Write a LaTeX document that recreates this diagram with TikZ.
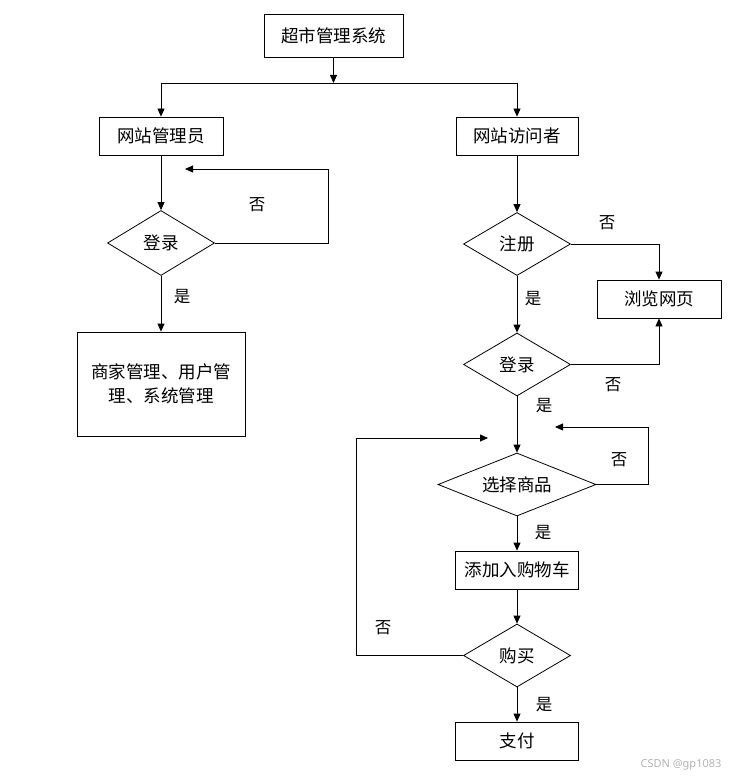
\documentclass[tikz,border=0pt]{standalone}
\usepackage{fontspec}
\newfontfamily\cjk{Noto Sans CJK SC}
\newfontfamily\wmfont{Noto Sans}
\usepackage{tikz}
\usetikzlibrary{shapes.geometric,arrows.meta,calc,positioning}

\begin{document}
\begin{tikzpicture}[
	%	style def
    x=1pt, y=-1pt,
    flow line/.style={line width=0.8pt, black},
    arr/.style={flow line, -{Triangle[length=8pt,width=7pt]}},
    procbox/.style={draw, line width=0.8pt, rectangle, inner sep=0pt, font=\cjk\fontsize{17.5}{24}\selectfont},
    decide/.style={draw, line width=0.8pt, diamond, shape aspect=2.5, inner sep=0pt, font=\cjk\fontsize{17.5}{20}\selectfont},
    ans/.style={font=\cjk\fontsize{16.5}{18}\selectfont},
    every node/.style={color=black}
    ]
	\useasboundingbox (0,0) rectangle (738,781);

	% top and the two roles
	\node[procbox, minimum width=139pt, minimum height=43pt] (sys) at (333.5,35.5) {超市管理系统};
	\node[procbox, minimum width=124pt, minimum height=38pt] (admin) at (161,136) {网站管理员};
	\node[procbox, minimum width=122pt, minimum height=38pt] (visitor) at (517,136) {网站访问者};
	\coordinate (split) at (333.5,83);

	% admin side
	\node[decide, minimum width=107pt, minimum height=65pt] (adlogin) at (161,243) {登录};
	\node[procbox, minimum width=168pt, minimum height=104pt, align=center] (admfunc) at (161,384) {商家管理、用户管\\理、系统管理};
	\coordinate (adback) at (185,169);

	% visitor side
	\node[decide, minimum width=107pt, minimum height=63pt] (reg) at (517,244) {注册};
	\node[procbox, minimum width=124pt, minimum height=38pt] (browse) at (659,299) {浏览网页};
	\node[decide, minimum width=107pt, minimum height=63pt] (vlogin) at (517,364.5) {登录};
	\node[decide, minimum width=158pt, minimum height=63pt] (choose) at (517,484.5) {选择商品};
	\node[procbox, minimum width=123pt, minimum height=38pt] (cart) at (517,570) {添加入购物车};
	\node[decide, minimum width=107pt, minimum height=63pt] (buy) at (517,655.5) {购买};
	\node[procbox, minimum width=123pt, minimum height=38pt] (pay) at (517,741) {支付};
	\coordinate (chback) at (555,427);
	\coordinate (buyback) at (488,438);

	% connections
	\draw[arr] (sys) -- (split);
	\draw[arr] (split) -| (admin);
	\draw[arr] (split) -| (visitor);
	\draw[arr] (admin) -- (adlogin);
	\draw[arr] (adlogin.east) -- ++(113,0) |- (adback);
	\draw[arr] (adlogin) -- (admfunc);
	\draw[arr] (visitor) -- (reg);
	\draw[arr] (reg.east) -| (browse);
	\draw[arr] (reg) -- (vlogin);
	\draw[arr] (vlogin.east) -| (browse);
	\draw[arr] (vlogin) -- (choose);
	\draw[arr] (choose.east) -- ++(52,0) |- (chback);
	\draw[arr] (choose) -- (cart);
	\draw[arr] (cart) -- (buy);
	\draw[arr] (buy.west) -- ++(-107,0) |- (buyback);
	\draw[arr] (buy) -- (pay);

	% yes / no labels
	\node[ans] (n1) at (257,205) {否};
	\node[ans] (y1) at (182,297) {是};
	\node[ans] (n2) at (607,223) {否};
	\node[ans] (y2) at (533,299) {是};
	\node[ans] (n3) at (613,385) {否};
	\node[ans] (y3) at (544,406) {是};
	\node[ans] (n4) at (619,460) {否};
	\node[ans] (y4) at (543,533) {是};
	\node[ans] (n5) at (383,628) {否};
	\node[ans] (y5) at (544,705) {是};

	% watermark
	\node[font=\wmfont\fontsize{11}{13}\selectfont, text=gray!60] (wm) at (681,765) {CSDN @gp1083};
\end{tikzpicture}
\end{document}
